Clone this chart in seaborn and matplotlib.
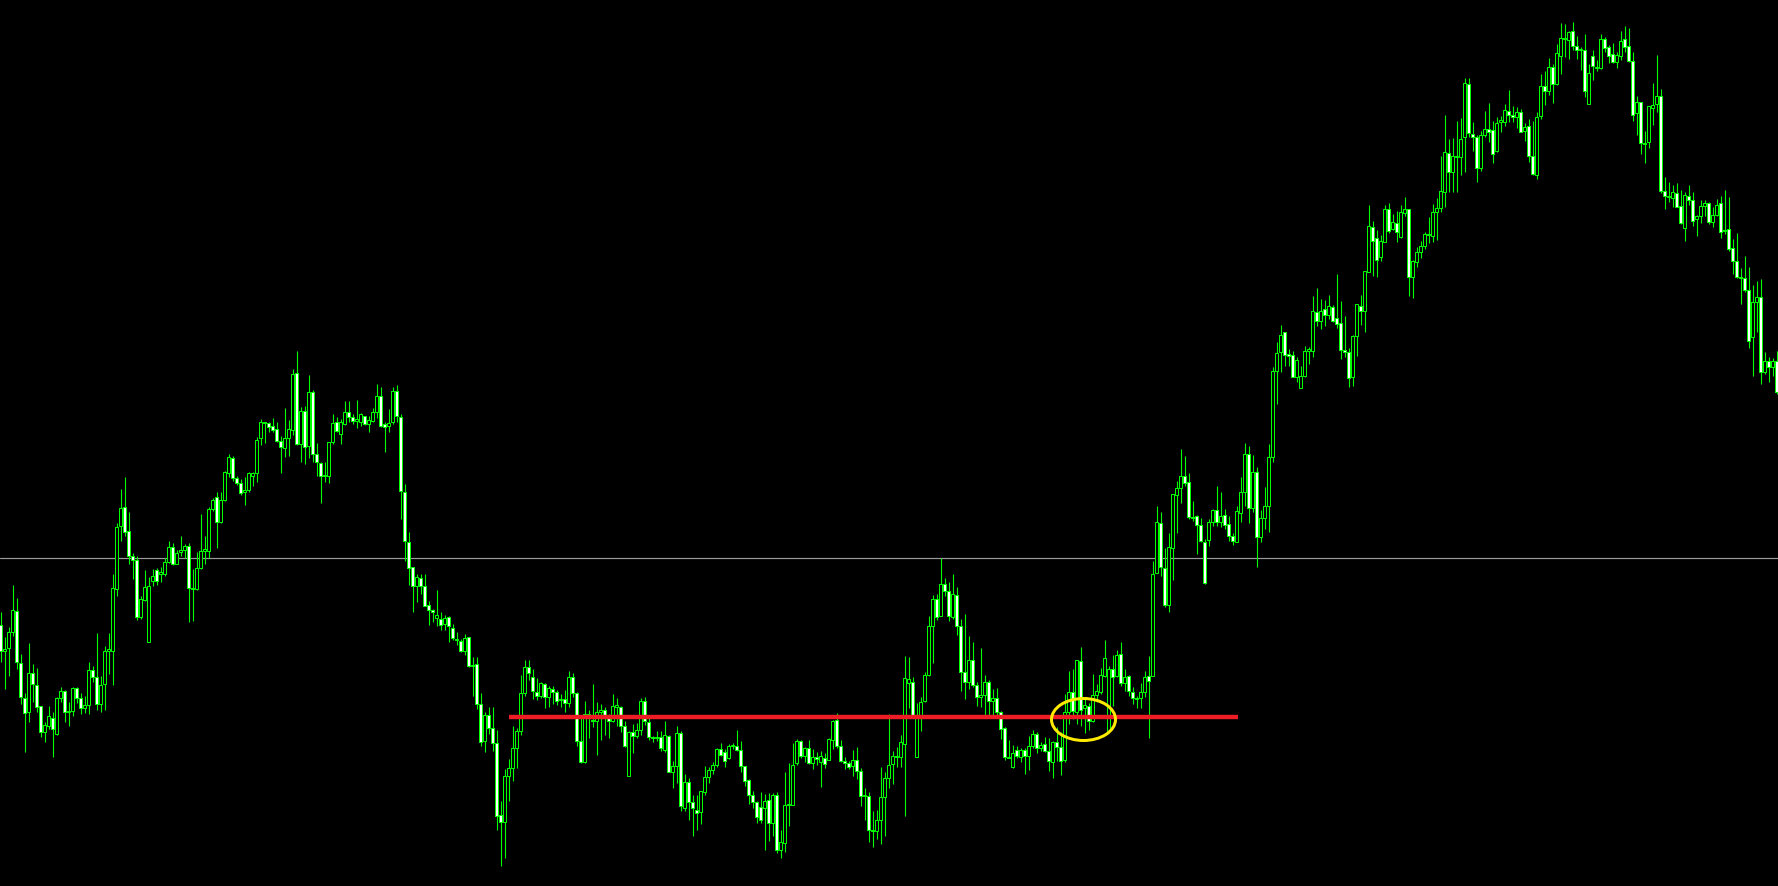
import numpy as np
import pandas as pd
import matplotlib.pyplot as plt
import seaborn as sns
from matplotlib.patches import Ellipse

# Candles (price units, one candle per bar, left to right)
opens = [
    261, 235, 238, 254, 275, 223, 188, 174, 213, 201, 180, 154, 160, 168, 152, 188, 195, 174, 175, 198,
    188, 178, 181, 216, 209, 182, 202, 235, 235, 297, 360, 379, 355, 330, 326, 269, 286, 244, 305, 316,
    312, 312, 324, 339, 322, 334, 336, 340, 298, 297, 318, 335, 335, 377, 389, 364, 386, 413, 428, 408,
    403, 394, 396, 410, 413, 448, 464, 463, 460, 457, 445, 438, 448, 456, 513, 442, 475, 440, 494, 432,
    423, 410, 410, 444, 464, 452, 462, 474, 469, 465, 464, 470, 462, 465, 474, 490, 462, 460, 464, 495,
    469, 394, 344, 319, 300, 308, 300, 281, 276, 268, 267, 262, 269,
    258, 247, 245, 235, 249, 220, 222, 182, 145, 171, 158, 143, 71, 64, 110, 118, 138, 155, 193, 219,
    209, 194, 190, 202, 189, 197, 194, 186, 187, 183, 209, 193, 145, 124, 171, 166, 165, 174, 176, 170,
    165, 179, 179, 160, 110, 154, 150, 156, 185, 164, 149, 148, 149, 136, 150, 114, 120, 153, 78, 104,
    84, 76, 74, 94, 109, 116, 121, 137, 134, 128, 140, 140, 136, 120, 106,
    91, 84, 79, 78, 86, 63, 91, 36, 43, 81, 81, 123, 145, 130, 138, 123, 129, 124, 128, 126,
    146, 166, 140, 125, 123, 120, 126, 115, 90, 90, 56, 55, 66, 89, 108, 122, 130, 129, 142, 203,
    204, 129, 170, 185, 211, 260, 287, 270, 302, 295, 269, 291, 260, 214, 204, 226, 201, 189, 191, 204,
    185, 188, 174, 158, 129, 119, 136, 129, 136, 130, 140, 152, 138, 142, 135,
    124, 144, 139, 126, 174, 194, 174, 225, 178, 180, 165, 191, 194, 210, 155, 217, 210, 232, 203, 210,
    194, 188, 188, 194, 210, 210, 313, 363, 318, 281, 338, 391, 398, 410, 404, 369, 370, 361, 344,
    346, 364, 376, 364, 371, 362, 350, 344, 373, 394, 432, 378, 414, 349, 368, 380, 429, 515, 534, 554,
    532, 531, 509, 498, 510, 535, 535, 574, 565, 577, 571, 579, 568, 563, 536, 534,
    509, 550, 580, 575, 614, 659, 648, 629, 644, 677, 657, 663, 649, 673, 677, 609, 624, 634, 640, 652,
    650, 674, 678, 694, 733, 714, 729, 729, 749, 802, 752, 749, 718, 751, 757, 756, 735, 764, 764, 775,
    771, 769, 774, 755, 760, 730, 711, 770, 800, 795, 819, 802, 830, 848,
    846, 855, 840, 836, 836, 782, 830, 818, 818, 847, 839, 832, 824, 830, 847, 840, 825, 773, 784, 743,
    744, 778, 782, 790, 695, 690, 688, 693, 680, 658, 690, 686, 667, 670, 680, 683, 664, 671, 683, 655,
    657, 638, 625, 609, 608, 596, 549, 584, 589, 514, 525, 519, 525,
]
highs = [
    274, 249, 259, 301, 288, 232, 193, 243, 222, 218, 180, 164, 180, 174, 189, 199, 196, 184, 199, 199,
    193, 190, 224, 220, 253, 210, 240, 253, 312, 363, 397, 409, 374, 333, 330, 290, 316, 309, 317, 318,
    319, 328, 345, 343, 336, 350, 342, 343, 317, 334, 372, 350, 379, 388, 394, 394, 415, 432, 430, 410,
    407, 409, 414, 414, 449, 467, 464, 464, 468, 464, 450, 478, 466, 517, 535, 479, 480, 511, 496, 443,
    424, 424, 444, 472, 469, 467, 485, 485, 472, 486, 473, 470, 470, 478, 502, 499, 464, 477, 499, 501,
    472, 402, 354, 319, 312, 312, 312, 285, 277, 296, 274, 271, 270,
    262, 254, 247, 252, 249, 229, 229, 193, 174, 179, 179, 156, 85, 117, 127, 160, 158, 211, 226, 226,
    217, 208, 204, 203, 200, 200, 196, 192, 196, 215, 213, 194, 170, 185, 176, 202, 184, 182, 179, 172,
    192, 188, 180, 165, 155, 162, 163, 188, 189, 168, 150, 155, 155, 165, 151, 125, 160, 155, 112, 108,
    91, 91, 95, 120, 119, 124, 138, 143, 137, 142, 143, 156, 145, 120, 107,
    95, 85, 94, 92, 93, 93, 94, 56, 114, 123, 143, 147, 146, 139, 146, 137, 134, 135, 133, 148,
    166, 173, 146, 129, 125, 136, 139, 118, 98, 94, 75, 76, 119, 114, 172, 135, 139, 151, 230, 229,
    209, 183, 189, 214, 270, 291, 292, 328, 308, 304, 312, 299, 267, 272, 250, 244, 204, 238, 211, 206,
    197, 198, 175, 159, 146, 141, 140, 138, 138, 150, 156, 154, 144, 149, 148,
    145, 159, 154, 192, 215, 217, 226, 239, 188, 183, 212, 202, 218, 246, 220, 231, 236, 244, 217, 211,
    199, 190, 203, 215, 230, 325, 380, 374, 338, 353, 392, 405, 437, 430, 413, 385, 371, 368, 347,
    367, 377, 400, 394, 377, 370, 353, 380, 409, 443, 440, 431, 419, 376, 399, 442, 519, 544, 561, 554,
    537, 535, 529, 520, 540, 539, 590, 598, 587, 586, 591, 581, 612, 585, 570, 538,
    551, 582, 591, 615, 681, 665, 656, 651, 681, 683, 672, 675, 681, 689, 677, 626, 639, 645, 654, 669,
    682, 688, 730, 771, 747, 748, 765, 768, 808, 808, 764, 751, 755, 775, 783, 765, 769, 770, 782, 796,
    780, 779, 777, 763, 767, 765, 774, 812, 815, 828, 822, 842, 863, 862,
    855, 864, 850, 839, 852, 822, 836, 826, 852, 849, 841, 843, 834, 855, 860, 858, 834, 790, 784, 755,
    780, 803, 831, 797, 709, 704, 701, 703, 696, 694, 701, 694, 671, 686, 686, 684, 679, 687, 690, 696,
    689, 647, 653, 618, 630, 619, 601, 605, 607, 534, 529, 528, 535,
]
lows = [
    224, 197, 210, 250, 217, 182, 134, 164, 184, 174, 149, 144, 157, 129, 151, 184, 164, 160, 170, 183,
    172, 173, 172, 204, 176, 174, 176, 212, 201, 290, 345, 350, 322, 307, 266, 267, 285, 244, 300, 301,
    304, 310, 323, 321, 322, 330, 328, 264, 265, 296, 317, 322, 328, 375, 338, 363, 385, 409, 405, 401,
    391, 381, 394, 400, 404, 441, 443, 454, 454, 444, 413, 429, 430, 451, 441, 424, 422, 428, 424, 410,
    383, 404, 403, 442, 454, 442, 461, 464, 462, 458, 460, 461, 454, 464, 468, 459, 434, 454, 462, 464,
    367, 325, 301, 274, 284, 292, 280, 261, 264, 260, 256, 256, 244,
    246, 241, 234, 231, 219, 190, 177, 140, 134, 152, 135, 56, 20, 28, 85, 105, 118, 151, 190, 206,
    187, 186, 188, 178, 179, 182, 181, 179, 174, 179, 189, 140, 123, 123, 148, 159, 131, 146, 151, 148,
    164, 160, 154, 139, 110, 133, 148, 151, 161, 146, 144, 145, 135, 134, 114, 98, 103, 75, 75, 66,
    50, 56, 62, 91, 103, 112, 119, 130, 119, 127, 137, 135, 114, 100, 82,
    78, 63, 63, 36, 45, 50, 33, 28, 34, 60, 81, 121, 128, 124, 122, 117, 121, 99, 118, 126,
    137, 138, 124, 117, 117, 110, 107, 80, 66, 44, 39, 47, 42, 50, 98, 102, 119, 119, 70, 178,
    170, 129, 155, 184, 210, 223, 266, 270, 290, 265, 267, 251, 195, 187, 197, 199, 180, 179, 170, 170,
    170, 170, 147, 126, 128, 118, 128, 124, 112, 116, 138, 133, 135, 134, 115,
    108, 125, 111, 124, 162, 167, 162, 160, 153, 156, 164, 184, 192, 209, 154, 180, 209, 200, 195, 190,
    182, 178, 178, 189, 148, 210, 313, 310, 279, 274, 306, 353, 383, 400, 367, 365, 332, 344, 302,
    340, 360, 360, 359, 357, 345, 341, 344, 364, 380, 363, 374, 319, 344, 357, 354, 424, 482, 514, 520,
    520, 509, 504, 498, 509, 522, 529, 560, 557, 560, 567, 564, 558, 527, 529, 499,
    500, 530, 561, 554, 614, 610, 609, 625, 644, 653, 656, 644, 648, 670, 590, 588, 619, 628, 637, 643,
    644, 646, 674, 679, 694, 694, 694, 711, 714, 749, 735, 704, 715, 749, 744, 723, 734, 754, 760, 764,
    764, 758, 754, 745, 724, 711, 707, 767, 781, 791, 783, 801, 812, 829,
    827, 836, 827, 816, 789, 782, 806, 815, 817, 834, 823, 823, 818, 826, 834, 824, 765, 751, 732, 723,
    738, 761, 774, 693, 677, 684, 679, 679, 662, 645, 681, 660, 650, 663, 670, 662, 659, 670, 648, 652,
    635, 612, 608, 582, 594, 538, 510, 554, 502, 512, 504, 510, 492,
]
closes = [
    235, 237, 254, 276, 224, 189, 173, 213, 202, 179, 154, 161, 170, 157, 188, 195, 174, 175, 198, 188,
    178, 181, 216, 209, 182, 201, 235, 237, 298, 359, 378, 354, 330, 326, 269, 287, 299, 300, 310, 305,
    314, 324, 339, 322, 333, 336, 340, 298, 297, 318, 335, 337, 377, 386, 364, 386, 414, 429, 408, 403,
    393, 396, 413, 413, 446, 464, 463, 459, 456, 445, 439, 448, 457, 512, 442, 475, 439, 494, 432, 424,
    410, 411, 444, 463, 455, 464, 474, 469, 465, 467, 472, 462, 466, 474, 490, 460, 459, 463, 495, 470,
    395, 345, 318, 300, 309, 300, 280, 276, 274, 271, 261, 268, 260,
    248, 246, 235, 248, 220, 221, 182, 144, 171, 158, 143, 70, 64, 110, 118, 138, 155, 193, 219, 213,
    195, 190, 203, 189, 198, 194, 185, 186, 183, 209, 193, 145, 124, 172, 172, 165, 174, 176, 170, 165,
    180, 181, 160, 140, 154, 150, 156, 185, 165, 149, 148, 148, 138, 151, 114, 120, 153, 80, 104, 84,
    78, 73, 95, 109, 116, 121, 137, 131, 125, 140, 141, 136, 120, 105, 91,
    84, 69, 66, 85, 63, 91, 36, 44, 81, 82, 121, 145, 130, 138, 123, 129, 127, 130, 122, 147,
    165, 140, 125, 123, 119, 126, 115, 90, 90, 56, 55, 66, 89, 108, 121, 130, 129, 144, 208, 207,
    170, 170, 184, 211, 260, 287, 269, 302, 295, 270, 292, 260, 214, 204, 226, 201, 189, 191, 204, 185,
    188, 174, 157, 129, 128, 133, 130, 136, 130, 140, 152, 138, 141, 135, 125,
    144, 139, 125, 174, 194, 175, 226, 176, 181, 165, 191, 195, 211, 228, 217, 209, 231, 203, 209, 195,
    188, 187, 194, 209, 205, 312, 364, 319, 281, 339, 392, 398, 410, 403, 369, 368, 361, 345, 303,
    364, 376, 364, 370, 361, 350, 345, 375, 394, 432, 378, 414, 349, 368, 380, 429, 515, 533, 551, 531,
    530, 509, 526, 510, 535, 537, 575, 565, 575, 571, 580, 565, 562, 536, 534, 508,
    550, 582, 575, 615, 660, 645, 626, 645, 677, 655, 664, 654, 674, 677, 609, 625, 634, 640, 652, 651,
    674, 678, 695, 734, 714, 730, 730, 747, 803, 753, 749, 718, 751, 757, 754, 732, 763, 766, 776, 771,
    769, 774, 754, 759, 730, 712, 769, 800, 795, 819, 802, 833, 848, 847,
    854, 840, 836, 836, 795, 813, 820, 818, 847, 838, 830, 824, 831, 845, 839, 825, 771, 784, 743, 742,
    780, 781, 790, 695, 690, 689, 694, 679, 663, 691, 686, 665, 670, 680, 683, 664, 671, 681, 654, 656,
    637, 625, 609, 608, 596, 545, 584, 589, 514, 525, 519, 525, 494,
]

# horizontal price lines and the marked zone
grey_level = 328
red_level = 169
red_start, red_end = 127, 309.4
circle_bar, circle_price = 270.75, 166.5

df = pd.DataFrame({'open': opens, 'high': highs, 'low': lows, 'close': closes})
df['bar'] = np.arange(len(df))
df['bull'] = df['close'] >= df['open']

sns.set_style('dark', rc={'axes.facecolor': 'black', 'figure.facecolor': 'black'})

fig = plt.figure(figsize=(17.78, 8.87), dpi=100)
ax = fig.add_axes([0, 0, 1, 1])
ax.set_facecolor('black')

green = '#00ff00'
px = 72 / 100  # one pixel in points

ax.axhline(grey_level, color='#9a9a9a', lw=1.2 * px, zorder=1)

# wicks
ax.vlines(df['bar'], df['low'], df['high'], color=green, lw=1.1 * px, zorder=2)

# bodies: bull candles hollow (black), bear candles white
body_low = df[['open', 'close']].min(axis=1)
body_h = (df['open'] - df['close']).abs().clip(lower=0.8)
fills = np.where(df['bull'], 'black', 'white')
ax.bar(df['bar'], body_h, bottom=body_low, width=0.55, color=fills,
       edgecolor=green, linewidth=1.0 * px, zorder=3)

ax.plot([red_start, red_end], [red_level, red_level], color='#ee1c24',
        lw=4.4 * px, solid_capstyle='butt', zorder=4)
ax.add_patch(Ellipse((circle_bar, circle_price), 16.0, 42, fill=False,
                     edgecolor='#ffea00', lw=3.0 * px, zorder=5))

ax.set_xlim(-0.125, 444.375)
ax.set_ylim(0, 887)
ax.set_xticks([])
ax.set_yticks([])
for s in ax.spines.values():
    s.set_visible(False)

fig.savefig('out.png', dpi=100, facecolor='black')
